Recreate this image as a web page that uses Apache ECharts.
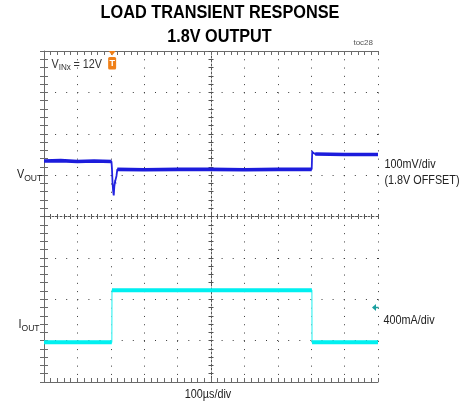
<!DOCTYPE html>
<html><head><meta charset="utf-8">
<script src="https://cdn.jsdelivr.net/npm/echarts@6/dist/echarts.min.js"></script>
<style>html,body{margin:0;padding:0;background:#fff}#c{width:470px;height:405px}</style>
</head><body><div id="c"></div>
<script>
// ---------- data ----------
const titleLines = ['LOAD TRANSIENT RESPONSE', '1.8V OUTPUT'];
const xMin = 0, xMax = 1000, xStep = 100;   // time, µs (100µs/div)
const yMin = 0, yMax = 8, yStep = 1;        // screen divisions
// VOUT trace (divisions, 100mV/div)
const voutTime = [0, 50, 100, 150, 202, 203.5, 205, 207, 208.8, 210.5, 212.5, 215, 217, 219.5, 300, 400, 500, 600, 700, 801.5, 803, 806, 812, 900, 1000];
const voutDiv  = [5.34, 5.35, 5.33, 5.34, 5.33, 5.15, 4.85, 4.62, 4.51, 4.72, 4.83, 4.84, 4.98, 5.14, 5.13, 5.14, 5.14, 5.13, 5.14, 5.14, 5.55, 5.57, 5.51, 5.50, 5.50];
// IOUT trace (divisions, 400mA/div)
const ioutTime = [0, 100, 203, 203.5, 400, 600, 802, 802.5, 900, 1000];
const ioutDiv  = [0.96, 0.96, 0.96, 2.22, 2.22, 2.22, 2.22, 0.96, 0.96, 0.96];
const triggerTime = 204;
const ioutRefDiv = 1.80;
const vinLabel = ['V', 'INx', '= 12V'];
const voutLabel = ['V', 'OUT'];
const ioutLabel = ['I', 'OUT'];
const scaleLabels = ['100mV/div', '(1.8V OFFSET)', '400mA/div', '100µs/div'];
const tocLabel = 'toc28';

// ---------- helpers ----------
const AX = '#6a6a6a';
function plateau(t, v, maxSlope) {
  const out = [[t[0], v[0]]];
  for (let i = 1; i < t.length; i++) {
    const s = Math.abs((v[i] - v[i - 1]) / (t[i] - t[i - 1]));
    if (s > maxSlope) out.push([(t[i] + t[i - 1]) / 2, '-']);
    out.push([t[i], v[i]]);
  }
  return out;
}
function pairs(t, v) { return t.map((x, i) => [x, v[i]]); }

function xAx(position, o) {
  return Object.assign({
    type: 'value', min: xMin, max: xMax, interval: xStep, position: position,
    axisLine: { show: true, onZero: false, lineStyle: { color: AX, width: 1 } },
    axisTick: { show: true, inside: true, length: 4, lineStyle: { color: AX } },
    minorTick: { show: true, splitNumber: 5, length: 4, lineStyle: { color: AX } },
    axisLabel: { show: false }, splitLine: { show: false }, silent: true
  }, o || {});
}
function yAx(position, o) {
  return Object.assign({
    type: 'value', min: yMin, max: yMax, interval: yStep, position: position,
    axisLine: { show: true, onZero: false, lineStyle: { color: AX, width: 1 } },
    axisTick: { show: true, inside: true, length: 4, lineStyle: { color: AX } },
    minorTick: { show: true, splitNumber: 5, length: 4, lineStyle: { color: AX } },
    axisLabel: { show: false }, splitLine: { show: false }, silent: true
  }, o || {});
}
const G = { left: 44, top: 51, width: 334, height: 331 };
const crossLine = { show: true, onZero: false, lineStyle: { color: '#555', width: 1, type: [2, 2] } };
const crossTick = (inside) => ({ show: true, inside: inside, length: 2.5, lineStyle: { color: '#555' } });
const crossMinor = { show: true, splitNumber: 5, length: 2.5, lineStyle: { color: '#555' } };

const chart = echarts.init(document.getElementById('c'), null, { renderer: 'canvas' });
chart.setOption({
  animation: false,
  backgroundColor: '#fff',
  grid: { left: G.left, top: G.top, width: G.width, height: G.height, containLabel: false, outerBoundsMode: 'none' },
  xAxis: [
    xAx('bottom', { splitLine: { show: true, lineStyle: { color: '#3a3a3a', width: 1, type: [1, 7.28] } } }),
    xAx('top'),
    xAx('bottom', { offset: -G.height / 2, axisLine: crossLine, axisTick: crossTick(true), minorTick: crossMinor }),
    xAx('bottom', { offset: -G.height / 2, axisLine: { show: false }, axisTick: crossTick(false), minorTick: crossMinor })
  ],
  yAxis: [
    yAx('left', { splitLine: { show: true, lineStyle: { color: '#3a3a3a', width: 1, type: [1, 10.1] } } }),
    yAx('right', { axisLine: { show: false } }),
    yAx('left', { offset: -G.width / 2, axisLine: crossLine, axisTick: crossTick(true), minorTick: crossMinor }),
    yAx('left', { offset: -G.width / 2, axisLine: { show: false }, axisTick: crossTick(false), minorTick: crossMinor })
  ],
  series: [
    { type: 'line', name: 'IOUT edge', data: pairs(ioutTime, ioutDiv), showSymbol: false, symbol: 'none',
      lineStyle: { color: '#5cf4f4', width: 1.4 }, z: 3, silent: true },
    { type: 'line', name: 'IOUT', data: plateau(ioutTime, ioutDiv, 0.01), showSymbol: false, symbol: 'none',
      connectNulls: false, lineStyle: { color: '#00f0f0', width: 4 }, z: 4, silent: true },
    { type: 'line', name: 'VOUT edge', data: pairs(voutTime, voutDiv), showSymbol: false, symbol: 'none',
      lineStyle: { color: '#2424e0', width: 1.8 }, z: 5, silent: true },
    { type: 'line', name: 'VOUT', data: plateau(voutTime, voutDiv, 0.01), showSymbol: false, symbol: 'none',
      connectNulls: false, lineStyle: { color: '#1c1cdc', width: 3.6 }, z: 6, silent: true }
  ]
});

// ---------- annotations ----------
const mc = document.createElement('canvas').getContext('2d');
function tw(text, font) { mc.font = font; return mc.measureText(text).width; }
const FF = '"Liberation Sans", Arial, sans-serif';
const SX = 0.9;
function txt(text, x, y, size, opts) {
  opts = opts || {};
  const font = (opts.bold ? 'bold ' : '') + size + 'px ' + FF;
  return {
    type: 'text', x: x, y: y, scaleX: opts.sx || SX, scaleY: 1, silent: true, z: 100,
    style: { text: text, font: font, fill: opts.fill || '#222',
      align: opts.align || 'left', textAlign: opts.align || 'left',
      verticalAlign: 'middle', textVerticalAlign: 'middle' }
  };
}
function subLabel(parts, x, y, big, small, fill) {
  const f1 = big + 'px ' + FF;
  const w = tw(parts[0], f1) * SX;
  return [txt(parts[0], x, y, big, { fill }), txt(parts[1], x + w, y + 3, small, { fill })];
}
const trig = chart.convertToPixel({ xAxisIndex: 0, yAxisIndex: 0 }, [triggerTime, yMax]);
const ref = chart.convertToPixel({ xAxisIndex: 0, yAxisIndex: 0 }, [xMax, ioutRefDiv]);
const OR = '#f08018';
const els = [
  txt(titleLines[0], 220, 13, 18, { bold: true, fill: '#000', align: 'center', sx: 0.905 }),
  txt(titleLines[1], 219.5, 37, 18, { bold: true, fill: '#000', align: 'center', sx: 0.9 }),
  txt(tocLabel, 373, 43, 8, { fill: '#555', align: 'right', sx: 1 }),
  ...subLabel([vinLabel[0], vinLabel[1]], 51.5, 65, 12, 9, '#333'),
  txt(vinLabel[2], 73.5, 65, 12, { fill: '#333' }),
  ...subLabel(voutLabel, 17, 175, 12, 9.5, '#222'),
  ...subLabel(ioutLabel, 18.5, 325, 12, 9.5, '#222'),
  txt(scaleLabels[0], 384.5, 165, 12),
  txt(scaleLabels[1], 384.5, 180.5, 12),
  txt(scaleLabels[2], 383.5, 320.5, 12),
  txt(scaleLabels[3], 208, 395, 12, { align: 'center' }),
  // trigger marker
  { type: 'polygon', silent: true, z: 100, shape: { points: [[trig[0] - 3.5, trig[1]], [trig[0] + 3.5, trig[1]], [trig[0], trig[1] + 4.5]] }, style: { fill: OR } },
  { type: 'rect', silent: true, z: 100, shape: { x: trig[0] - 4, y: trig[1] + 6, width: 8, height: 12.5, r: 1.5 }, style: { fill: OR } },
  txt('T', trig[0], trig[1] + 12.5, 9, { bold: true, fill: '#fff', align: 'center', sx: 1 }),
  // IOUT reference arrow
  { type: 'polygon', silent: true, z: 100, shape: { points: [[ref[0] - 6, ref[1]], [ref[0] - 2, ref[1] - 3.5], [ref[0] - 2, ref[1] + 3.5]] }, style: { fill: '#1aa0a0' } },
  { type: 'line', silent: true, z: 100, shape: { x1: ref[0] - 3, y1: ref[1], x2: ref[0] + 0.5, y2: ref[1] }, style: { stroke: '#1aa0a0', lineWidth: 1.5 } }
];
chart.setOption({ graphic: { elements: els } });
</script>
</body></html>
